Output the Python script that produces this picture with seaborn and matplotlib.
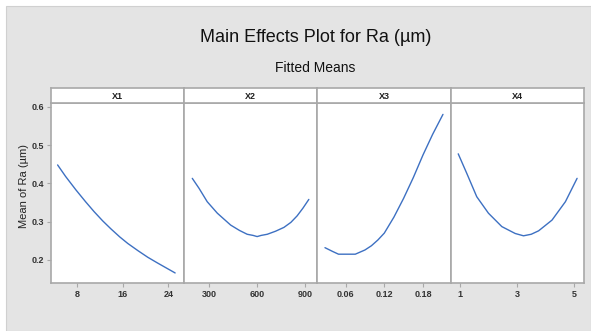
import matplotlib
matplotlib.use("Agg")
import matplotlib.pyplot as plt
import seaborn as sns
import pandas as pd
from matplotlib.patches import Rectangle

# ---- data ----
factors = ["X1", "X2", "X3", "X4"]
x1_levels = [4.6, 6, 7.8, 9.5, 11.0, 12.5, 13.95, 15.5, 16.9, 18.7, 20.4, 22, 23.3, 25.2]
x1_means = [0.448, 0.418, 0.383, 0.352, 0.326, 0.302, 0.281, 0.260, 0.243, 0.224, 0.207, 0.193, 0.182, 0.166]
x2_levels = [196, 238, 289, 352, 435, 490, 538, 575, 600, 625, 663, 715, 767, 810, 849, 885, 922]
x2_means = [0.413, 0.387, 0.352, 0.322, 0.291, 0.277, 0.267, 0.264, 0.261, 0.264, 0.267, 0.275, 0.285, 0.298, 0.315, 0.335, 0.358]
x3_levels = [0.028, 0.04, 0.049, 0.062, 0.075, 0.09, 0.10, 0.11, 0.12, 0.135, 0.15, 0.165, 0.18, 0.195, 0.211]
x3_means = [0.232, 0.222, 0.215, 0.215, 0.215, 0.226, 0.237, 0.252, 0.270, 0.312, 0.361, 0.415, 0.474, 0.528, 0.580]
x4_levels = [0.94, 1.24, 1.59, 2.0, 2.47, 2.94, 3.23, 3.5, 3.76, 4.23, 4.70, 5.11]
x4_means = [0.477, 0.426, 0.365, 0.322, 0.287, 0.269, 0.263, 0.267, 0.276, 0.304, 0.352, 0.413]
x_ticks = [[8, 16, 24], [300, 600, 900], [0.06, 0.12, 0.18], [1, 3, 5]]
x_ticklabels = [["8", "16", "24"], ["300", "600", "900"], ["0.06", "0.12", "0.18"], ["1", "3", "5"]]
y_ticks = [0.2, 0.3, 0.4, 0.5, 0.6]
title = "Main Effects Plot for Ra (µm)"
subtitle = "Fitted Means"
ylabel = "Mean of Ra (µm)"

levels = [x1_levels, x2_levels, x3_levels, x4_levels]
means = [x1_means, x2_means, x3_means, x4_means]
df = pd.concat([pd.DataFrame({"factor": f, "level": l, "mean": m})
                for f, l, m in zip(factors, levels, means)], ignore_index=True)

# ---- style ----
sns.set_theme(style="white")
plt.rcParams["font.family"] = ["Liberation Sans", "DejaVu Sans"]
fam = ["Liberation Sans", "DejaVu Sans"]

W, H = 591, 331
fig = plt.figure(figsize=(W / 100, H / 100), dpi=100)
fig.patch.set_facecolor("white")
fig.add_artist(Rectangle((6 / W, 0), 1 - 6 / W, 1 - 6 / H, transform=fig.transFigure,
                         facecolor="#e4e4e4", edgecolor="#d0d0d0", lw=0.8, zorder=0))

xlims = [(3.39, 26.77), (145, 976), (0.0164, 0.2233), (0.683, 5.363)]
left_px, right_px = 50.7, 584.3
top_px, hdr_px, bot_px = 88.3, 103.0, 283.3
pw = (right_px - left_px) / 4
frame_col = "#a8a8a8"
line_col = "#3d70c2"

for i, f in enumerate(factors):
    x0 = (left_px + i * pw) / W
    ax = fig.add_axes([x0, 1 - bot_px / H, pw / W, (bot_px - hdr_px) / H])
    hx = fig.add_axes([x0, 1 - hdr_px / H, pw / W, (hdr_px - top_px) / H])
    sub = df[df["factor"] == f]
    sns.lineplot(data=sub, x="level", y="mean", ax=ax, color=line_col, lw=1.0)
    ax.set_facecolor("white")
    ax.set_xlim(*xlims[i])
    ax.set_ylim(0.139, 0.6097)
    ax.set_xticks(x_ticks[i])
    ax.set_xticklabels(x_ticklabels[i], family=fam, fontsize=6.5,
                       fontweight="bold", color="#333333")
    ax.set_xlabel("")
    ax.set_ylabel("")
    ax.tick_params(axis="x", direction="out", length=3, width=0.8, color=frame_col, pad=2,
                   bottom=True)
    if i == 0:
        ax.set_yticks(y_ticks)
        ax.set_yticklabels([f"{v:.1f}" for v in y_ticks], family=fam, fontsize=6.5,
                           fontweight="bold", color="#333333")
        ax.tick_params(axis="y", direction="out", length=3, width=0.8, color=frame_col,
                       pad=2, left=True)
    else:
        ax.set_yticks([])
    for s in ax.spines.values():
        s.set_color(frame_col)
        s.set_linewidth(1.2)
    hx.set_facecolor("white")
    hx.set_xticks([])
    hx.set_yticks([])
    for s in hx.spines.values():
        s.set_color(frame_col)
        s.set_linewidth(1.2)
    hx.text(0.5, 0.45, f, ha="center", va="center", fontsize=6.5, family=fam,
            fontweight="bold", color="#222222", transform=hx.transAxes)

cx = (left_px + right_px) / 2 / W
fig.text(cx - 2 / W, 1 - 38 / H, title, ha="center", va="center", fontsize=13,
         family=fam, color="#111111")
fig.text(cx - 2 / W, 1 - 68 / H, subtitle, ha="center", va="center", fontsize=10,
         family=fam, color="#111111")
fig.text(24 / W, 1 - 186 / H, ylabel, ha="center", va="center", rotation=90,
         fontsize=8, family=fam, color="#222222")

fig.savefig("out.png", dpi=100)
